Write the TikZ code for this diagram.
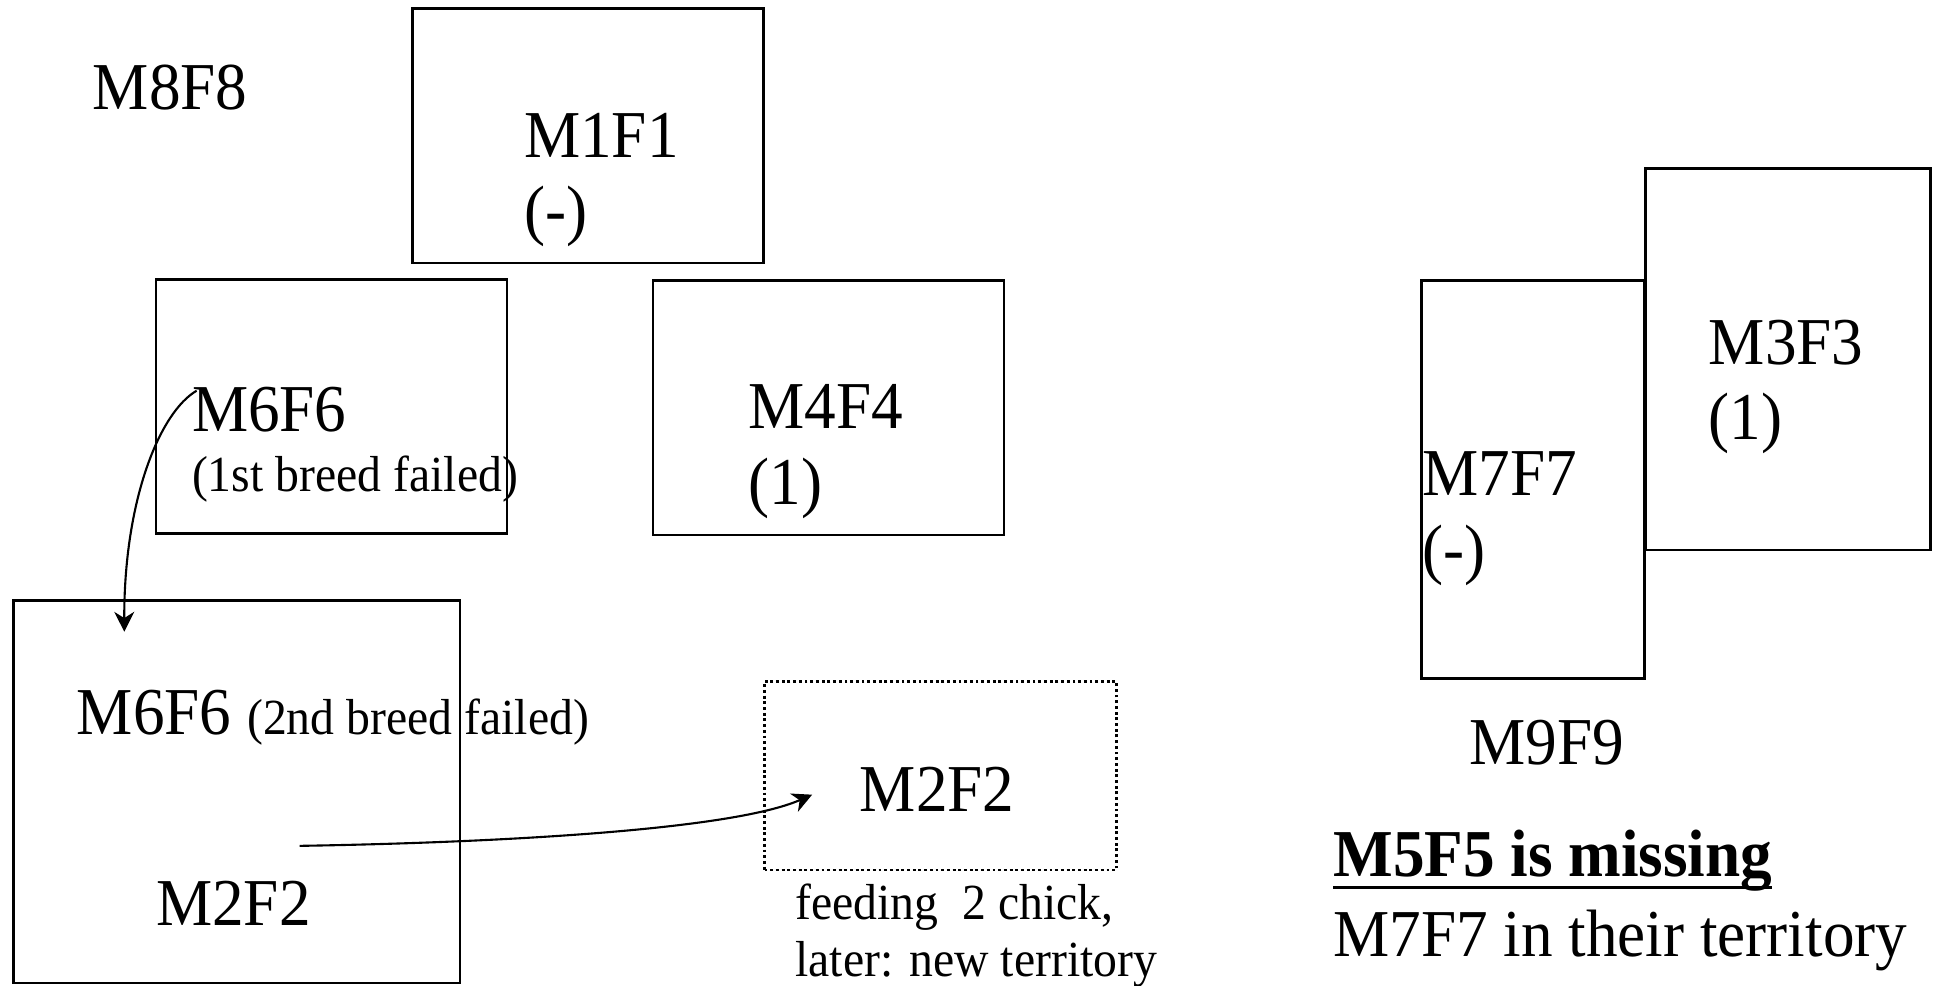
\documentclass[tikz,border=0pt]{standalone}
\usepackage{fontspec}
\usepackage{graphicx}
\setmainfont{Liberation Serif}
\usetikzlibrary{arrows.meta}
\newcommand{\vstr}[1]{\scalebox{1}[1.06]{#1}}
\begin{document}
\begin{tikzpicture}[x=1pt,y=-1pt,
  lbl/.style={inner sep=0pt, outer sep=0pt, anchor=base west, font=\fontsize{51}{61}\selectfont},
  small/.style={inner sep=0pt, outer sep=0pt, anchor=base west, font=\fontsize{38.5}{46}\selectfont},
  box/.style={draw, line width=1.9pt, inner sep=0pt, outer sep=0pt, anchor=north west},
  dotbox/.style={box, line width=2.2pt, dash pattern=on 2.3pt off 2.3pt},
  conn/.style={line width=1.7pt, -{Stealth[length=16pt,width=16pt,inset=5pt]}}]
\useasboundingbox (0,0) rectangle (1568,795);
% boxes
\node[box, minimum width=283pt, minimum height=205pt] (b1) at (333,7) {};
\node[box, minimum width=283pt, minimum height=205pt] (b6) at (126,225.5) {};
\node[box, minimum width=283pt, minimum height=205pt] (b4) at (527,226.5) {};
\node[box, minimum width=360pt, minimum height=309pt] (bb) at (11,484.5) {};
\node[dotbox, minimum width=284pt, minimum height=152pt] (bd) at (617,550) {};
\node[box, minimum width=230pt, minimum height=308pt] (b3) at (1328,136) {};
\node[box, minimum width=180pt, minimum height=321pt] (b7) at (1147,226.5) {};
% texts
\node[lbl] (t8) at (75,88) {\vstr{M8F8}};
\node[lbl] (t1) at (423,127) {\vstr{M1F1}};
\node[lbl] (t1b) at (423,188) {\vstr{(-)}};
\node[lbl] (t6) at (155,348) {\vstr{M6F6}};
\node[small] (t6b) at (155,397) {\vstr{(1st breed failed)}};
\node[lbl] (t4) at (604,346) {\vstr{M4F4}};
\node[lbl] (t4b) at (604,407) {\vstr{(1)}};
\node[lbl] (t6c) at (62,593) {\vstr{M6F6 {\fontsize{38.5}{46}\selectfont(2nd breed failed)}}};
\node[lbl] (t2a) at (126,747) {\vstr{M2F2}};
\node[lbl] (t2b) at (694,655) {\vstr{M2F2}};
\node[small] (tf1) at (642,742) {\vstr{feeding\ \ 2 chick,}};
\node[small] (tf2) at (642,788) {\vstr{later: new territory}};
\node[lbl] (t3) at (1379,294) {\vstr{M3F3}};
\node[lbl] (t3b) at (1379,355) {\vstr{(1)}};
\node[lbl] (t7) at (1148,400) {\vstr{M7F7}};
\node[lbl] (t7b) at (1148,461) {\vstr{(-)}};
\node[lbl] (t9) at (1186,617) {\vstr{M9F9}};
\node[lbl, font=\fontsize{51}{61}\selectfont\bfseries] (t5) at (1076,707.5) {\vstr{M5F5 is missing}};
\draw[line width=2.6pt] ([yshift=-9pt]t5.base west) -- ([yshift=-9pt]t5.base east);
\node[lbl] (tt) at (1076,772) {\vstr{M7F7 in their territory}};
% connectors
\coordinate (a1s) at (158.7,315.3);
\coordinate (a1e) at (100.3,509.8);
\coordinate (a2s) at (241.8,682.6);
\coordinate (a2e) at (655.4,641.3);
\draw[conn] (a1s) .. controls (129,332.5) and (100,403.5) .. (a1e);
\draw[conn] (a2s) .. controls (400,680) and (590,670) .. (a2e);
\end{tikzpicture}
\end{document}
